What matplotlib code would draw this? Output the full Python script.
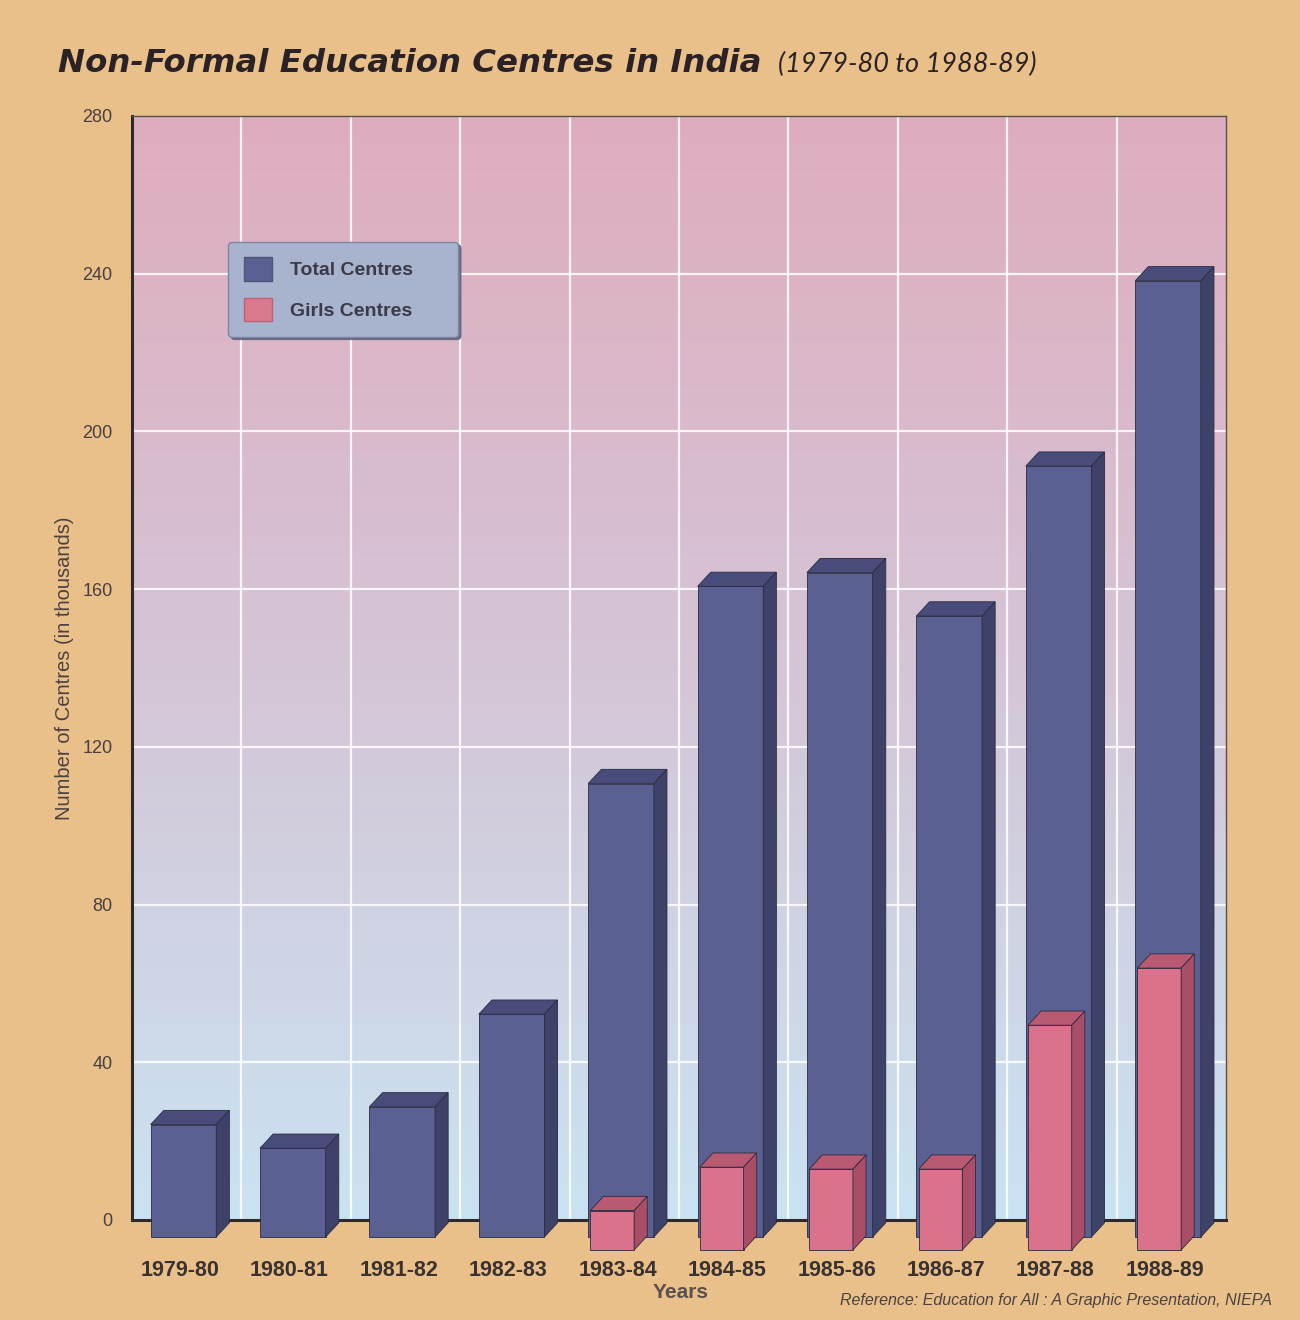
import numpy as np
import matplotlib
matplotlib.use("Agg")
import matplotlib.pyplot as plt
from matplotlib.patches import Polygon, Patch

years = ["1979-80", "1980-81", "1981-82", "1982-83", "1983-84",
         "1984-85", "1985-86", "1986-87", "1987-88", "1988-89"]
total_centres = [28.5, 22.5, 33, 56.5, 115, 165, 168.5, 157.5, 195.5, 242.5]
girls_centres = [0, 0, 0, 0, 10, 21, 20.5, 20.5, 57, 71.5]

bg = "#EAC08A"
total_cols = ("#5B6092", "#474C7A", "#3E4268")   # front, top, side
girls_cols = ("#D9728A", "#B95A72", "#A94E66")

fig = plt.figure(figsize=(13, 13.2), dpi=100, facecolor=bg)
ax = fig.add_axes([132 / 1300, 100 / 1320, 1094 / 1300, 1104 / 1320])
ax.set_xlim(-0.5, 9.5)
ax.set_ylim(0, 280)

# pink-to-blue background wall
grad = np.linspace(0, 1, 256) ** 1.15
top_c = np.array([0.87, 0.68, 0.75])
bot_c = np.array([0.79, 0.89, 0.95])
img = top_c[None, :] * (1 - grad[:, None]) + bot_c[None, :] * grad[:, None]
img = img.reshape(256, 1, 3)
ax.imshow(img, extent=[-0.5, 9.5, 0, 280], aspect="auto", zorder=0)

for yv in range(40, 280, 40):
    ax.axhline(yv, color="white", lw=1.6, alpha=0.85, zorder=1)
for xv in np.arange(0.5, 9.5, 1):
    ax.axvline(xv, color="white", lw=1.6, alpha=0.85, zorder=1)

dx, dy = 0.12, 3.6


def draw_bars(vals, left_off, width, base, cols, z):
    x = np.arange(len(vals))
    keep = [i for i, v in enumerate(vals) if v > 0]
    xs = x[keep] + left_off
    hs = np.array(vals)[keep]
    bars = ax.bar(xs, hs, width=width, bottom=base, align="edge",
                  color=cols[0], edgecolor="#2b2b40", linewidth=0.6,
                  zorder=z, clip_on=False)
    for b in bars:
        l, w = b.get_x(), b.get_width()
        y0, h = b.get_y(), b.get_height()
        top = [(l, y0 + h), (l + w, y0 + h), (l + w + dx, y0 + h + dy), (l + dx, y0 + h + dy)]
        side = [(l + w, y0), (l + w + dx, y0 + dy), (l + w + dx, y0 + h + dy), (l + w, y0 + h)]
        ax.add_patch(Polygon(top, closed=True, fc=cols[1], ec="#2b2b40", lw=0.6,
                             zorder=z, clip_on=False))
        ax.add_patch(Polygon(side, closed=True, fc=cols[2], ec="#2b2b40", lw=0.6,
                             zorder=z, clip_on=False))


draw_bars(total_centres, -0.33, 0.6, -4.3, total_cols, 3)
draw_bars(girls_centres, -0.31, 0.40, -7.6, girls_cols, 4)

for s in ["left", "bottom"]:
    ax.spines[s].set_color("#2e2a2a")
    ax.spines[s].set_linewidth(2.2)
for s in ["top", "right"]:
    ax.spines[s].set_color("#55504e")
    ax.spines[s].set_linewidth(1.0)

ax.set_yticks(range(0, 281, 40))
ax.set_yticklabels([str(v) for v in range(0, 281, 40)],
                   fontsize=13, color="#474040", family="Liberation Sans")
ax.set_xticks(np.arange(10) - 0.06)
ax.set_xticklabels(years, fontsize=15.5, fontweight="bold", color="#3a3232",
                   family="Liberation Sans")
ax.tick_params(axis="y", length=0, pad=14)
ax.tick_params(axis="x", length=0, pad=29)

ax.set_ylabel("Number of Centres (in thousands)", fontsize=14.5, color="#4a4242",
              family="Liberation Sans", labelpad=6)
fig.text(681 / 1300, 1 - 1292 / 1320, "Years", ha="center", va="center",
         fontsize=15, fontweight="bold", color="#5a5050", family="Liberation Sans")

handles = [Patch(fc=total_cols[0], ec="#50557a"), Patch(fc="#D97A8E", ec="#c06070")]
leg = ax.legend(handles, ["Total Centres", "Girls Centres"],
                bbox_to_anchor=(0.088, 0.795, 0.21, 0.091), loc="upper left",
                mode="expand", fancybox=True, borderaxespad=0,
                shadow={"color": "#5a5e75", "alpha": 0.85},
                facecolor="#A8B4CD", edgecolor="#7d86a0", framealpha=1,
                prop={"family": "Liberation Sans", "weight": "bold", "size": 14},
                handlelength=1.45, handleheight=1.45, labelspacing=0.9,
                handletextpad=0.9, borderpad=0.8)
for t in leg.get_texts():
    t.set_color("#3a3a48")
leg.set_zorder(10)

fig.text(58 / 1300, 1 - 64 / 1320, "Non-Formal Education Centres in India",
         ha="left", va="center", fontsize=23.3, fontweight="bold", style="italic",
         family="DejaVu Sans", color="#2a2226")
fig.text(778 / 1300, 1 - 64 / 1320, "(1979-80 to 1988-89)",
         ha="left", va="center", fontsize=19.5, style="italic",
         family="Lato", color="#2a2226")
fig.text(1272 / 1300, 1 - 1301 / 1320,
         "Reference: Education for All : A Graphic Presentation, NIEPA",
         ha="right", va="center", fontsize=11.5, style="italic",
         family="Liberation Sans", color="#4a4242")

fig.savefig("out.png", dpi=100, facecolor=bg)
